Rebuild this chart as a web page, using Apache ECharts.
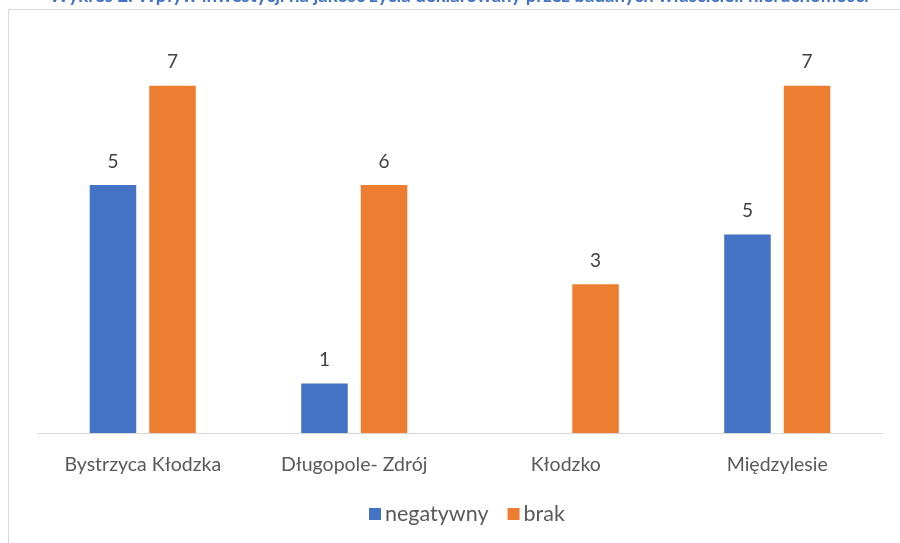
<!DOCTYPE html>
<html><head><meta charset="utf-8">
<script src="https://cdn.jsdelivr.net/npm/echarts@6/dist/echarts.min.js"></script>
<style>html,body{margin:0;padding:0;background:#fff}#c{width:900px;height:543px}</style>
</head><body><div id="c"></div>
<script>
const titleText = 'Wykres 2. Wpływ inwestycji na jakość życia deklarowany przez badanych właścicieli nieruchomości';
const categories = ['Bystrzyca Kłodzka', 'Długopole- Zdrój', 'Kłodzko', 'Międzylesie'];
const seriesNames = ['negatywny', 'brak'];
// bar heights as drawn in the picture
const negatywnyValues = [5, 1, null, 4];
const brakValues = [7, 5, 3, 7];
// label texts as printed in the picture
const negatywnyLabels = ['5', '1', '', '5'];
const brakLabels = ['7', '6', '3', '7'];

const FONT = 'Lato';
const chart = echarts.init(document.getElementById('c'));
function lbl(arr){ return { show: true, position: 'top', distance: 14, color: '#404040', fontFamily: FONT, fontSize: 19, formatter: p => arr[p.dataIndex] }; }
chart.setOption({
  animation: false,
  graphic: [
    { type: 'rect', shape: { x: 8.5, y: 9.5, width: 1000, height: 1000 }, style: { fill: 'none', stroke: '#d9d9d9', lineWidth: 1 }, z: -1 },
    { type: 'text', x: 459, y: 5, style: { text: titleText, fill: '#4472C4', font: 'bold 18.6px ' + FONT, textAlign: 'center', textVerticalAlign: 'bottom' } }
  ],
  grid: { left: 37, right: 17, top: 36, bottom: 110 },
  legend: { bottom: 13, left: 364, itemWidth: 12, itemHeight: 12, itemGap: 19, icon: 'rect',
    textStyle: { color: '#595959', fontFamily: FONT, fontSize: 21.5, padding: [0, 0, 0, -1] }, data: seriesNames },
  xAxis: { type: 'category', data: categories,
    axisLine: { lineStyle: { color: '#d9d9d9', width: 1 } }, axisTick: { show: false },
    axisLabel: { color: '#595959', fontFamily: FONT, fontSize: 19.5, margin: 22 } },
  yAxis: { type: 'value', min: 0, max: 8, show: false, splitLine: { show: false } },
  series: [
    { name: seriesNames[0], type: 'bar', data: negatywnyValues, barWidth: '22%', barGap: '28%', itemStyle: { color: '#4472C4' }, label: lbl(negatywnyLabels) },
    { name: seriesNames[1], type: 'bar', data: brakValues, barWidth: '22%', barGap: '28%', itemStyle: { color: '#ED7D31' }, label: lbl(brakLabels) }
  ]
});
</script></body></html>
